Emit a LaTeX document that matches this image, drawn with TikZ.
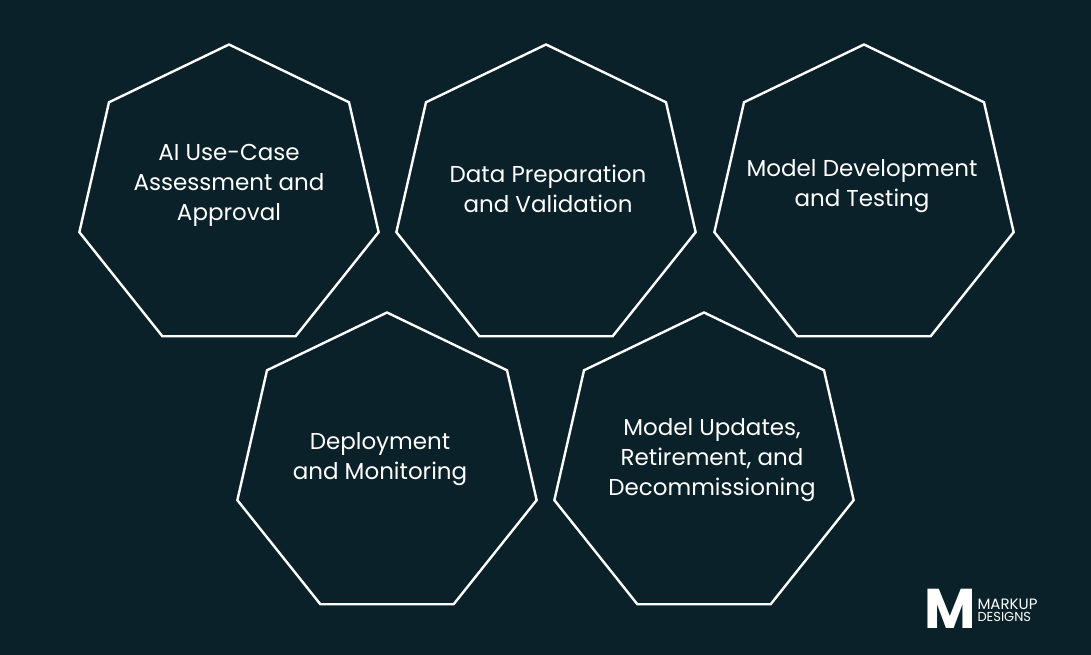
\documentclass[tikz,border=0pt]{standalone}
\usepackage{fontspec}
\setmainfont{Poppins}
\usetikzlibrary{shapes.geometric}
\definecolor{bg}{HTML}{0B2129}
\begin{document}
\begin{tikzpicture}[x=1pt,y=-1pt,
  hep/.style={draw=white,line width=2.4pt,regular polygon,regular polygon sides=7,minimum size=307pt,inner sep=0pt},
  lbl/.style={text=white,align=center,font=\fontsize{23}{30}\selectfont}]
\fill[bg] (0,0) rectangle (1091,655);
\useasboundingbox (0,0) rectangle (1091,655);
\node[hep] (h1) at (229,198) {};
\node[hep] (h2) at (546,198) {};
\node[hep] (h3) at (864,198) {};
\node[hep] (h4) at (387,466) {};
\node[hep] (h5) at (704,466) {};
\node[lbl] (t1) at (229,185) {AI Use-Case\\Assessment and\\Approval};
\node[lbl] (t2) at (548,189) {Data Preparation\\and Validation};
\node[lbl] (t3) at (862,186) {Model Development\\and Testing};
\node[lbl] (t4) at (380,459) {Deployment\\and Monitoring};
\node[lbl] (t5) at (712,460) {Model Updates,\\Retirement, and\\Decommissioning};
\node[text=white,font=\fontsize{56}{56}\selectfont\bfseries] (lm) at (950,609) {M};
\node[text=white,anchor=west,align=left,font=\fontsize{15}{15}\selectfont] (lt) at (974,610) {MARKUP\\[-3pt]{\fontsize{13}{13}\selectfont DESIGNS}};
\end{tikzpicture}
\end{document}
